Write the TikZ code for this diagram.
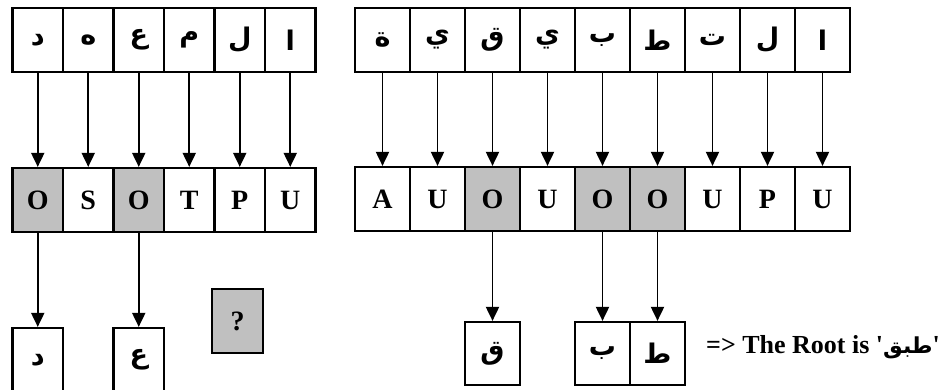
\documentclass[tikz,border=0pt]{standalone}
\usepackage{fontspec}
\setmainfont{Liberation Serif}
\newfontfamily\arabicfont[Script=Arabic]{DejaVu Sans}
\TeXXeTstate=1
\usetikzlibrary{arrows.meta}
\definecolor{boxgray}{HTML}{C0C0C0}
\begin{document}
\begin{tikzpicture}[x=1pt,y=-1pt,
  cell/.style={draw, line width=2.2pt, minimum width=50.5pt, minimum height=64pt, inner sep=0pt},
  wcell/.style={cell, minimum width=55pt},
  ar/.style={font=\arabicfont\fontsize{27}{30}\selectfont\bfseries},
  lat/.style={font=\fontsize{28}{32}\selectfont\bfseries},
  shade/.style={fill=boxgray},
  plain/.style={},
  conn/.style={-{Triangle[length=14pt,width=13pt]}, line width=1.9pt}
]
\useasboundingbox (0,0) rectangle (951,390);
% ---------- left word ----------
\foreach \t [count=\i] in {د,ه,ع,م,ل,ا}
  \node[cell,ar] (lt\i) at ({12.5+50.5*(\i-0.5)},40) {\beginR\t\endR};
\foreach \t/\s [count=\i] in {O/shade,S/plain,O/shade,T/plain,P/plain,U/plain}
  \node[cell,lat,\s] (lm\i) at ({12.5+50.5*(\i-0.5)},200) {\t};
\foreach \i in {1,...,6}
  \draw[conn] (lt\i) -- (lm\i);
\node[cell,ar] (lb1) at (37.75,360) {\beginR د\endR};
\node[cell,ar] (lb2) at (138.75,360) {\beginR ع\endR};
\draw[conn] (lm1) -- (lb1);
\draw[conn] (lm3) -- (lb2);
\node[cell,lat,shade] (qm) at (237.5,321) {?};
% ---------- right word ----------
\foreach \t [count=\i] in {ة,ي,ق,ي,ب,ط,ت,ل,ا}
  \node[wcell,ar] (rt\i) at ({355+55*(\i-0.5)},40) {\beginR\t\endR};
\foreach \t/\s [count=\i] in {A/plain,U/plain,O/shade,U/plain,O/shade,O/shade,U/plain,P/plain,U/plain}
  \node[wcell,lat,\s] (rm\i) at ({355+55*(\i-0.5)},199) {\t};
\foreach \i in {1,...,9}
  \draw[conn] (rt\i) -- (rm\i);
\node[wcell,ar,minimum height=63pt] (rb1) at (492.5,353.5) {\beginR ق\endR};
\node[wcell,ar,minimum height=63pt] (rb2) at (602.5,353.5) {\beginR ب\endR};
\node[wcell,ar,minimum height=63pt] (rb3) at (657.5,353.5) {\beginR ط\endR};
\draw[conn] (rm3) -- (rb1);
\draw[conn] (rm5) -- (rb2);
\draw[conn] (rm6) -- (rb3);
\node[font=\fontsize{26}{30}\selectfont\bfseries, anchor=base west, inner sep=0pt] (root) at (706,353)
  {=> The Root is \textquotesingle{\arabicfont\fontsize{22}{26}\selectfont\beginR طبق\endR}\textquotesingle};
\end{tikzpicture}
\end{document}
